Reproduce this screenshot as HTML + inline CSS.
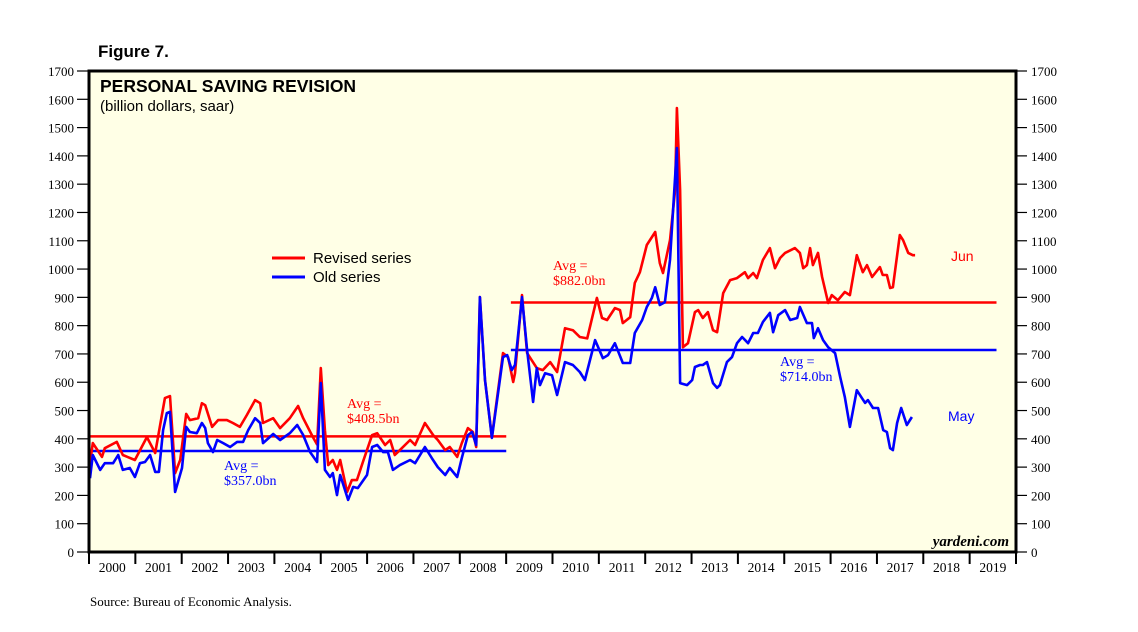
<!DOCTYPE html>
<html><head><meta charset="utf-8"><style>
body{margin:0;background:#fff;}
svg text{font-family:"Liberation Serif",serif;}
</style></head><body>
<svg id="chart" width="1138" height="627" viewBox="0 0 1138 627" xmlns="http://www.w3.org/2000/svg">
<rect x="89" y="71" width="927" height="481" fill="#ffffe6"/>
<text x="98" y="57" font-family="Liberation Sans" font-weight="bold" font-size="17" style="font-family:'Liberation Sans',sans-serif">Figure 7.</text>
<text x="100" y="92" font-weight="bold" font-size="17.5" style="font-family:'Liberation Sans',sans-serif">PERSONAL SAVING REVISION</text>
<text x="100" y="111" font-size="15" style="font-family:'Liberation Sans',sans-serif">(billion dollars, saar)</text>
<g id="axes"></g>
<g id="marks"></g>
<g>
<line x1="272" y1="258" x2="305" y2="258" stroke="#f00" stroke-width="3"/>
<text x="313" y="263" font-size="15" style="font-family:'Liberation Sans',sans-serif">Revised series</text>
<line x1="272" y1="277" x2="305" y2="277" stroke="#00f" stroke-width="3"/>
<text x="313" y="282" font-size="15" style="font-family:'Liberation Sans',sans-serif">Old series</text>
</g>
<text x="347" y="408" font-size="14" fill="#f00">Avg =</text>
<text x="347" y="423" font-size="14" fill="#f00">$408.5bn</text>
<text x="224" y="470" font-size="14" fill="#00f">Avg =</text>
<text x="224" y="485" font-size="14" fill="#00f">$357.0bn</text>
<text x="553" y="270" font-size="14" fill="#f00">Avg =</text>
<text x="553" y="285" font-size="14" fill="#f00">$882.0bn</text>
<text x="780" y="366" font-size="14" fill="#00f">Avg =</text>
<text x="780" y="381" font-size="14" fill="#00f">$714.0bn</text>
<text x="951" y="261" font-size="14" fill="#f00" style="font-family:'Liberation Sans',sans-serif">Jun</text>
<text x="948" y="421" font-size="14" fill="#00f" style="font-family:'Liberation Sans',sans-serif">May</text>
<text x="1009" y="546" font-size="15" font-style="italic" font-weight="bold" text-anchor="end">yardeni.com</text>
<text x="90" y="606" font-size="13">Source: Bureau of Economic Analysis.</text>
<rect x="89" y="71" width="927" height="481" fill="none" stroke="#000" stroke-width="3"/>
</svg>
<script>
const revisedDates=[2000.00,2000.06,2000.26,2000.32,2000.58,2000.71,2000.97,2001.23,2001.41,2001.62,2001.73,2001.84,2001.95,2002.08,2002.16,2002.34,2002.42,2002.49,2002.64,2002.77,2002.96,2003.09,2003.24,2003.39,2003.57,2003.68,2003.74,2003.96,2004.11,2004.32,2004.50,2004.61,2004.82,2004.91,2004.99,2005.08,2005.15,2005.25,2005.34,2005.41,2005.56,2005.66,2005.77,2005.90,2006.10,2006.21,2006.38,2006.49,2006.59,2006.70,2006.92,2007.03,2007.24,2007.42,2007.52,2007.68,2007.78,2007.94,2008.04,2008.17,2008.28,2008.35,2008.43,2008.54,2008.69,2008.93,2009.04,2009.15,2009.19,2009.34,2009.45,2009.66,2009.79,2009.95,2010.10,2010.27,2010.44,2010.59,2010.75,2010.96,2011.07,2011.18,2011.35,2011.46,2011.52,2011.68,2011.78,2011.89,2012.04,2012.22,2012.32,2012.39,2012.54,2012.65,2012.69,2012.76,2012.82,2012.93,2013.08,2013.15,2013.25,2013.36,2013.47,2013.56,2013.69,2013.84,2013.99,2014.16,2014.23,2014.34,2014.42,2014.55,2014.70,2014.81,2014.92,2015.03,2015.24,2015.35,2015.42,2015.50,2015.57,2015.63,2015.74,2015.83,2015.96,2016.04,2016.17,2016.32,2016.43,2016.58,2016.71,2016.80,2016.91,2017.08,2017.14,2017.23,2017.30,2017.36,2017.51,2017.58,2017.69,2017.79,2017.84];
const revisedValues=[314,385,336,367,389,343,325,406,350,544,551,279,325,488,466,473,526,519,442,466,466,456,442,484,537,526,456,473,438,473,516,473,406,380,650,431,307,325,290,325,212,254,254,318,413,420,378,396,343,360,396,378,456,413,396,360,371,336,385,438,424,371,901,608,406,703,689,601,632,908,703,650,643,671,636,791,784,760,755,898,827,820,862,855,809,830,951,989,1085,1131,1021,986,1102,1279,1569,1279,724,738,848,855,827,848,784,777,915,961,968,989,968,986,968,1032,1074,1003,1039,1057,1074,1057,1003,1014,1074,1014,1057,972,880,908,890,919,908,1049,989,1014,972,1007,979,979,933,936,1120,1102,1057,1049,1049];
const oldDates=[2000.00,2000.06,2000.22,2000.32,2000.50,2000.61,2000.71,2000.86,2000.97,2001.08,2001.19,2001.30,2001.41,2001.49,2001.58,2001.66,2001.73,2001.84,2001.99,2002.08,2002.16,2002.31,2002.42,2002.49,2002.55,2002.66,2002.75,2002.88,2003.03,2003.18,2003.31,2003.42,2003.57,2003.68,2003.74,2003.96,2004.11,2004.32,2004.48,2004.61,2004.76,2004.91,2004.99,2005.08,2005.19,2005.25,2005.34,2005.41,2005.58,2005.69,2005.79,2005.99,2006.10,2006.21,2006.34,2006.44,2006.55,2006.70,2006.92,2007.03,2007.24,2007.39,2007.52,2007.68,2007.78,2007.94,2008.04,2008.17,2008.26,2008.35,2008.43,2008.54,2008.69,2008.93,2009.02,2009.12,2009.19,2009.34,2009.45,2009.58,2009.66,2009.73,2009.84,2009.99,2010.10,2010.27,2010.44,2010.59,2010.70,2010.92,2011.09,2011.20,2011.35,2011.52,2011.68,2011.78,2011.94,2012.04,2012.15,2012.22,2012.32,2012.43,2012.54,2012.69,2012.76,2012.91,2013.02,2013.08,2013.19,2013.25,2013.34,2013.47,2013.56,2013.62,2013.77,2013.88,2013.99,2014.10,2014.23,2014.34,2014.44,2014.55,2014.70,2014.77,2014.88,2015.03,2015.14,2015.29,2015.35,2015.50,2015.61,2015.65,2015.74,2015.85,2015.96,2016.11,2016.22,2016.32,2016.43,2016.58,2016.69,2016.76,2016.82,2016.93,2017.04,2017.15,2017.23,2017.30,2017.36,2017.45,2017.54,2017.66,2017.77];
const oldValues=[261,343,290,314,314,343,290,297,265,314,318,343,283,283,431,491,495,212,297,442,424,420,456,438,385,353,396,385,371,389,389,431,473,456,385,417,396,420,449,413,353,318,597,290,265,279,201,272,184,230,226,272,371,378,353,353,290,307,325,314,371,332,300,272,297,265,332,413,424,378,901,608,403,689,696,643,661,901,714,530,650,590,632,625,555,671,661,636,608,749,685,696,738,668,668,774,820,866,898,936,873,883,1032,1428,597,590,608,654,661,661,671,597,580,590,671,689,738,760,738,774,774,813,845,777,837,855,820,827,866,809,809,756,791,749,724,703,618,548,442,572,544,527,537,509,509,431,424,367,360,456,509,449,477];
const avgLabels=["revised-2000","old-2000","revised-2009","old-2009"];
const avgValues=[408.5,357.0,882.0,714.0];
const avgStart=[2000.0,2000.0,2009.1,2009.1];
const avgEnd=[2009.0,2009.0,2019.6,2019.6];
const avgColors=["#f00","#00f","#f00","#00f"];
const yTicks=[0,100,200,300,400,500,600,700,800,900,1000,1100,1200,1300,1400,1500,1600,1700];
const yearLabels=["2000","2001","2002","2003","2004","2005","2006","2007","2008","2009","2010","2011","2012","2013","2014","2015","2016","2017","2018","2019"];

const NS="http://www.w3.org/2000/svg";
function xs(t){return 90+(t-2000)*46.25;}
function ys(v){return 552-v*481/1700;}
function mk(tag,attrs,parent){const e=document.createElementNS(NS,tag);for(const k in attrs)e.setAttribute(k,attrs[k]);parent.appendChild(e);return e;}
const axes=document.getElementById('axes'),marks=document.getElementById('marks');
yTicks.forEach(v=>{
  const y=ys(v);
  const l1=mk('line',{x1:77,x2:89,y1:y,y2:y,stroke:'#000','stroke-width':1.2},axes);
  
  
  const t1=mk('text',{x:74,y:y+5,'font-size':13,'text-anchor':'end'},axes);t1.textContent=v;
  
  
  const l2=mk('line',{x1:1016,x2:1027,y1:y,y2:y,stroke:'#000','stroke-width':1.2},axes);
  
  
  const t2=mk('text',{x:1031,y:y+5,'font-size':13},axes);t2.textContent=v;
  
  
});
yearLabels.forEach((lab,i)=>{
  const x0=89+i*46.35;
  const tk=mk('line',{x1:x0,x2:x0,y1:552,y2:564,stroke:'#000','stroke-width':2},axes);
  
  
  const t=mk('text',{x:x0+23.2,y:572,'font-size':13.5,'text-anchor':'middle'},axes);t.textContent=lab;
  
  
});
const lastTick=mk('line',{x1:1016,x2:1016,y1:552,y2:564,stroke:'#000','stroke-width':2},axes);


avgValues.forEach((v,i)=>{
  const l=mk('line',{x1:xs(avgStart[i]),x2:Math.min(xs(avgEnd[i]),1000),y1:ys(v),y2:ys(v),stroke:avgColors[i],'stroke-width':2.5},marks);
  
  
});
function series(dates,vals,color,name){
  const d=dates.map((t,i)=>(i?'L':'M')+xs(t).toFixed(1)+' '+ys(vals[i]).toFixed(1)).join(' ');
  const p=mk('path',{d:d,fill:'none',stroke:color,'stroke-width':2.6,'stroke-linejoin':'round'},marks);
  
  
}
series(revisedDates,revisedValues,'#f00','revised-series-line');
series(oldDates,oldValues,'#00f','old-series-line');
</script>
</body></html>
